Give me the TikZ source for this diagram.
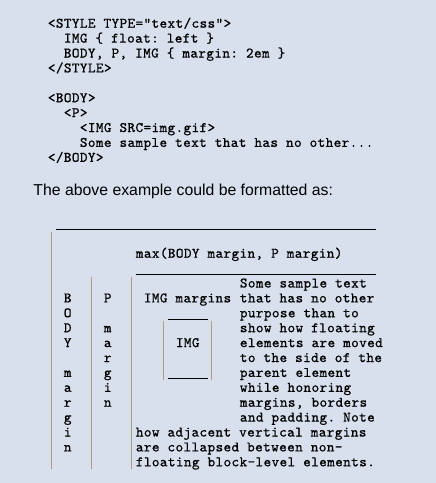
\documentclass[tikz,border=0pt]{standalone}
\usepackage{fontspec}
\setmainfont{Liberation Sans}
\newfontfamily\codefont[FakeBold=0.7, LetterSpace=2.7]{lmmono10-regular.otf}
\frenchspacing
\definecolor{bgblue}{RGB}{216,224,238}
\definecolor{bartan}{RGB}{172,158,134}
\tikzset{
  code/.style={font=\codefont\fontsize{14.5}{16}\selectfont\frenchspacing, inner sep=0pt, anchor=base west, text=black},
  letter/.style={font=\codefont\fontsize{14.5}{16}\selectfont, inner sep=0pt, anchor=base, text=black},
  sans/.style={font=\fontsize{15.8}{18}\selectfont, inner sep=0pt, anchor=base west, text=black},
  rule/.style={draw=black, line width=1pt},
  bar/.style={draw=bartan, line width=1.1pt}
}
\begin{document}
\begin{tikzpicture}[x=1pt,y=-1pt]
\useasboundingbox (0,0) rectangle (436,483);
\fill[bgblue] (0,0) rectangle (436,483);

% code listing
\node[code] (c1) at (47.7,27.7) {<STYLE TYPE="text/css">};
\node[code] (c2) at (63.7,42.6) {IMG \{ float: left \}};
\node[code] (c3) at (63.7,57.5) {BODY, P, IMG \{ margin: 2em \}};
\node[code] (c4) at (47.7,72.4) {</STYLE>};
\node[code] (c5) at (47.7,102.2) {<BODY>};
\node[code] (c6) at (63.7,117.1) {<P>};
\node[code] (c7) at (79.7,132.0) {<IMG SRC=img.gif>};
\node[code] (c8) at (79.7,146.9) {Some sample text that has no other...};
\node[code] (c9) at (47.7,161.8) {</BODY>};

\node[sans] (cap) at (33.3,195) {The above example could be formatted as:};

% horizontal rules
\coordinate (t1) at (55.7,229.3);  \coordinate (t2) at (375.7,229.3);
\coordinate (m1) at (135.7,274.3); \coordinate (m2) at (375.7,274.3);
\coordinate (i1) at (167.7,319.0); \coordinate (i2) at (207.7,319.0);
\coordinate (j1) at (167.7,378.6); \coordinate (j2) at (207.7,378.6);
\draw[rule] (t1) -- (t2);
\draw[rule] (m1) -- (m2);
\draw[rule] (i1) -- (i2);
\draw[rule] (j1) -- (j2);

% vertical bars
\coordinate (b0a) at (51.7,231.7);  \coordinate (b0b) at (51.7,469);
\coordinate (b5a) at (91.7,276.6);  \coordinate (b5b) at (91.7,469);
\coordinate (b10a) at (131.7,276.6); \coordinate (b10b) at (131.7,469);
\coordinate (b14a) at (163.7,320.8); \coordinate (b14b) at (163.7,380);
\coordinate (b20a) at (211.7,320.8); \coordinate (b20b) at (211.7,380);
\draw[bar] (b0a) -- (b0b);
\draw[bar] (b5a) -- (b5b);
\draw[bar] (b10a) -- (b10b);
\draw[bar] (b14a) -- (b14b);
\draw[bar] (b20a) -- (b20b);

% max label
\node[code] (mx) at (135.7,257.7) {max(BODY margin, P margin)};

% BODY margin letters (col 2)
\node[letter] (L1) at (67.7,302.4) {B};
\node[letter] (L2) at (67.7,317.3) {O};
\node[letter] (L3) at (67.7,332.2) {D};
\node[letter] (L4) at (67.7,347.1) {Y};
\node[letter] (L6) at (67.7,376.9) {m};
\node[letter] (L7) at (67.7,391.8) {a};
\node[letter] (L8) at (67.7,406.7) {r};
\node[letter] (L9) at (67.7,421.6) {g};
\node[letter] (L10) at (67.7,436.5) {i};
\node[letter] (L11) at (67.7,451.4) {n};

% P margin letters (col 7)
\node[letter] (P1) at (107.7,302.4) {P};
\node[letter] (P3) at (107.7,332.2) {m};
\node[letter] (P4) at (107.7,347.1) {a};
\node[letter] (P5) at (107.7,362.0) {r};
\node[letter] (P6) at (107.7,376.9) {g};
\node[letter] (P7) at (107.7,391.8) {i};
\node[letter] (P8) at (107.7,406.7) {n};

% IMG
\node[code] (imgm) at (143.7,302.4) {IMG margins};
\node[code] (img) at (175.7,347.1) {IMG};

% flowing text (col 24)
\node[code] (s0) at (239.7,287.5) {Some sample text};
\node[code] (s1) at (239.7,302.4) {that has no other};
\node[code] (s2) at (239.7,317.3) {purpose than to};
\node[code] (s3) at (239.7,332.2) {show how floating};
\node[code] (s4) at (239.7,347.1) {elements are moved};
\node[code] (s5) at (239.7,362.0) {to the side of the};
\node[code] (s6) at (239.7,376.9) {parent element};
\node[code] (s7) at (239.7,391.8) {while honoring};
\node[code] (s8) at (239.7,406.7) {margins, borders};
\node[code] (s9) at (239.7,421.6) {and padding. Note};
\node[code] (s10) at (135.7,436.5) {how adjacent vertical margins};
\node[code] (s11) at (135.7,451.4) {are collapsed between non-};
\node[code] (s12) at (135.7,466.3) {floating block-level elements.};
\end{tikzpicture}
\end{document}
